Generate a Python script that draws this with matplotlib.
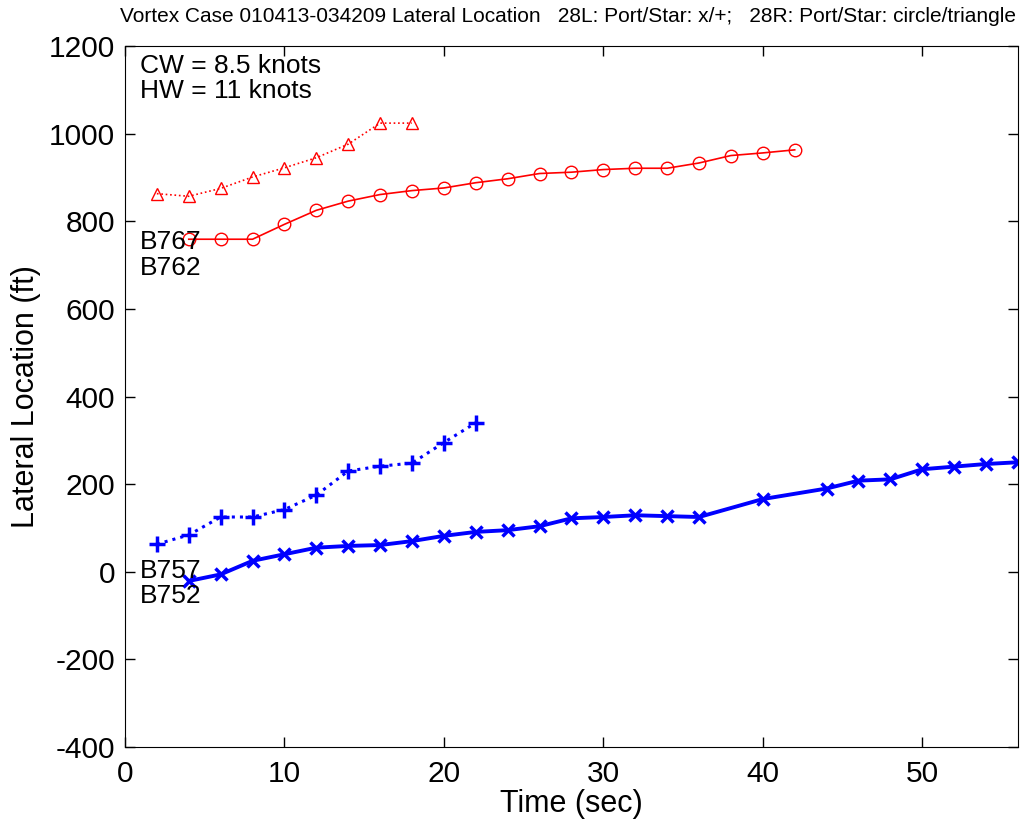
import matplotlib
matplotlib.use("Agg")
import matplotlib.pyplot as plt

plt.rcParams['font.family'] = ['Liberation Sans', 'DejaVu Sans']
plt.rcParams['axes.unicode_minus'] = False

# 28R port (circles, solid red)
t_circle = [4, 6, 8, 10, 12, 14, 16, 18, 20, 22, 24, 26, 28, 30, 32, 34, 36, 38, 40, 42]
y_circle = [759, 759, 759, 793, 825, 846, 861, 870, 876, 888, 897, 909, 912, 918, 921, 921, 933, 950, 956, 963]

# 28R star (triangles, dotted red)
t_tri = [2, 4, 6, 8, 10, 12, 14, 16, 18]
y_tri = [863, 857, 875, 901, 922, 945, 976, 1024, 1024]

# 28L star (plus, dotted blue)
t_plus = [2, 4, 6, 8, 10, 12, 14, 16, 18, 20, 22]
y_plus = [63, 84, 125, 125, 142, 175, 230, 241, 248, 295, 340]

# 28L port (x, solid blue)
t_x = [4, 6, 8, 10, 12, 14, 16, 18, 20, 22, 24, 26, 28, 30, 32, 34, 36, 40, 44, 46, 48, 50, 52, 54, 56]
y_x = [-21, -6, 25, 40, 55, 59, 61, 70, 82, 91, 95, 104, 122, 125, 129, 127, 125, 166, 190, 208, 211, 234, 240, 246, 250]

fig = plt.figure(figsize=(10.21, 8.26), dpi=100)
ax = fig.add_axes([0.1224, 0.0956, 0.8746, 0.8487])

ax.plot(t_tri, y_tri, ':', color='red', lw=1.2, marker='^', ms=9, mfc='none', mec='red', mew=1.0)
ax.plot(t_circle, y_circle, '-', color='red', lw=1.2, marker='o', ms=9, mfc='none', mec='red', mew=1.0)
ax.plot(t_plus, y_plus, ':', color='blue', lw=2.2, marker='+', ms=11, mew=2.5)
ax.plot(t_x, y_x, '-', color='blue', lw=2.8, marker='x', ms=8, mew=2.5)

# aircraft labels
ax.text(0.95, 753, 'B767', fontsize=19, va='center', ha='left')
ax.text(0.95, 694, 'B762', fontsize=19, va='center', ha='left')
ax.text(0.95, 2, 'B757', fontsize=19, va='center', ha='left')
ax.text(0.95, -56, 'B752', fontsize=19, va='center', ha='left')

ax.text(0.017, 0.971, 'CW = 8.5 knots', transform=ax.transAxes, fontsize=19, va='center')
ax.text(0.017, 0.936, 'HW = 11 knots', transform=ax.transAxes, fontsize=19, va='center')

ax.set_xlim(0, 56)
ax.set_ylim(-400, 1200)
ax.set_xticks([0, 10, 20, 30, 40, 50])
ax.set_yticks(range(-400, 1201, 200))
ax.tick_params(direction='in', top=True, right=True, labelsize=21.5, length=7, width=1)
ax.tick_params(axis='x', pad=9)
ax.tick_params(axis='y', pad=7)
ax.set_xlabel('Time (sec)', fontsize=22, labelpad=1)
ax.set_ylabel('Lateral Location (ft)', fontsize=22, labelpad=6)

fig.text(0.995, 0.992, 'Vortex Case 010413-034209 Lateral Location   28L: Port/Star: x/+;   28R: Port/Star: circle/triangle',
         ha='right', va='top', fontsize=15)

fig.savefig('out.png', dpi=100)
